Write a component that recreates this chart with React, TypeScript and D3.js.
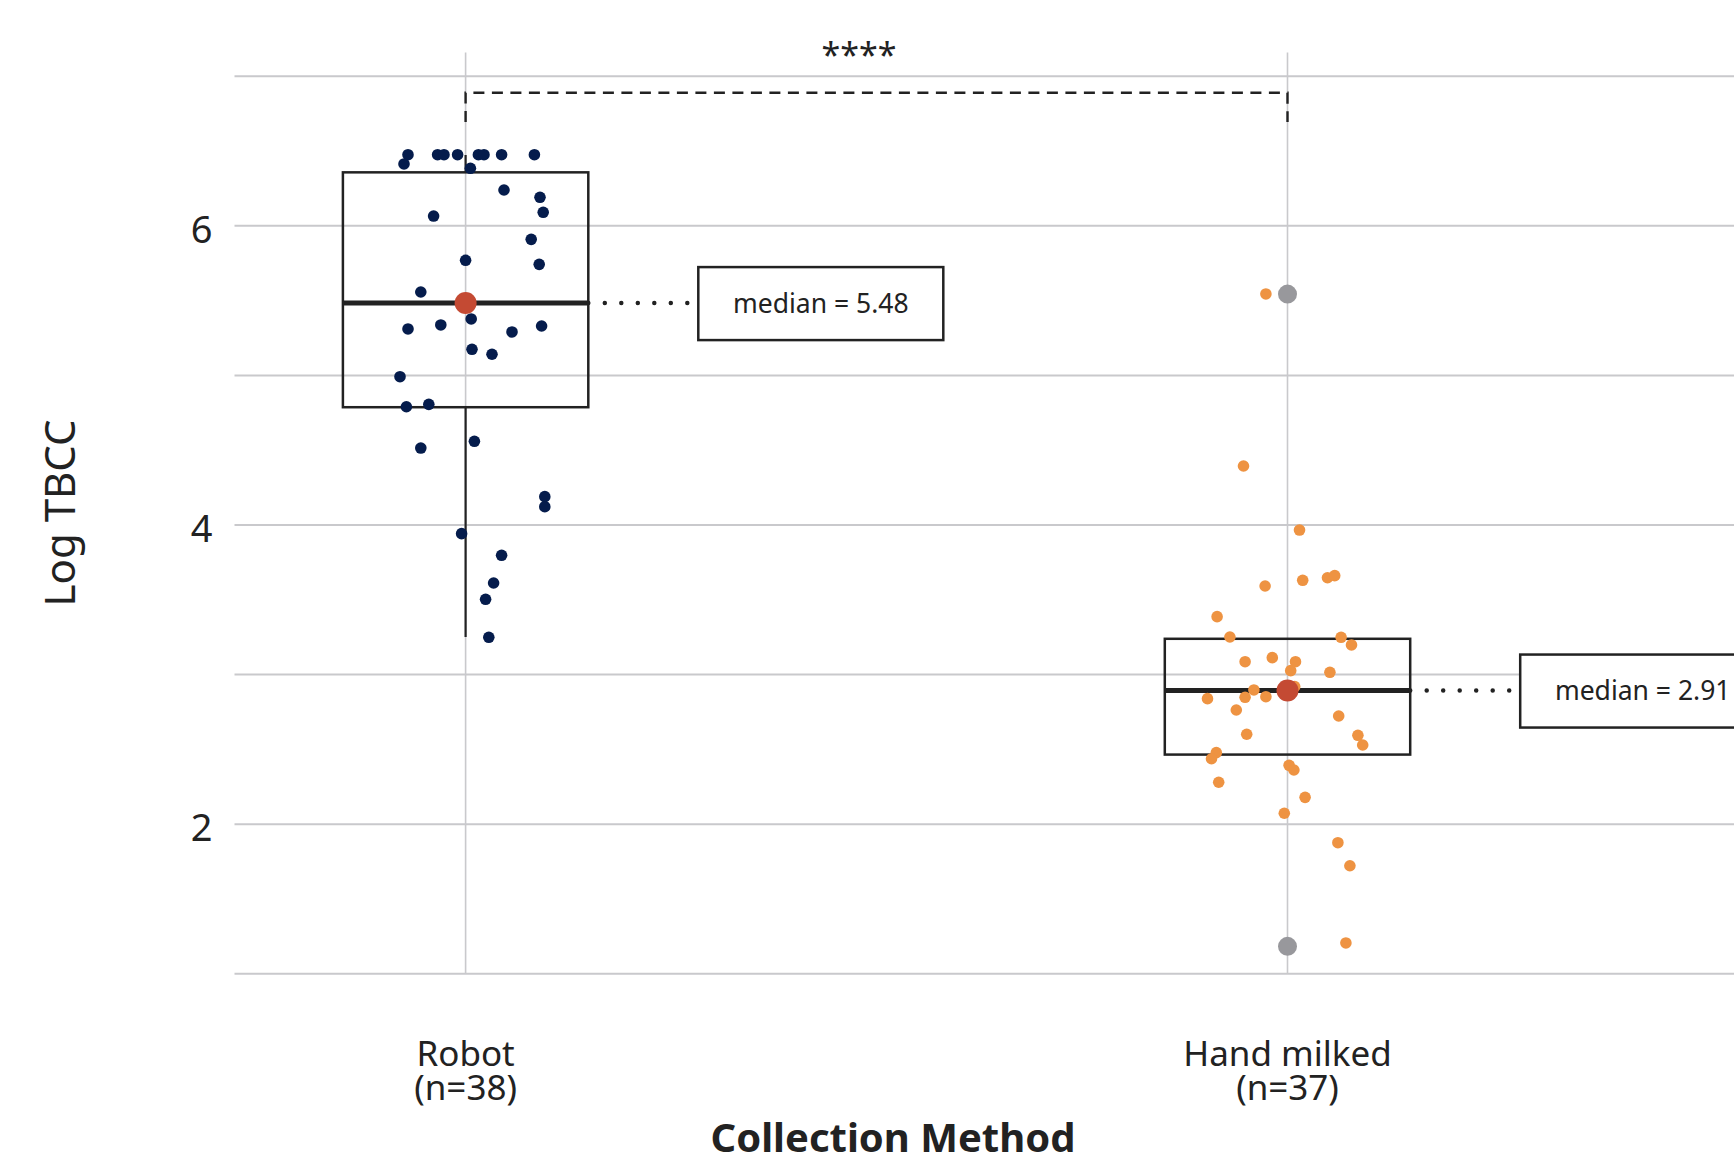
import * as d3 from 'd3';
import React, { useRef, useEffect } from 'react';

const WIDTH = 1734;
const HEIGHT = 1153;
const FONT = '"Noto Sans", "Open Sans", sans-serif';

const categories = ['Robot', 'Hand milked'];
const counts = [38, 37];
const medians = [5.48, 2.89];
const medianLabels = ['5.48', '2.91'];
const q1 = [4.784, 2.462];
const q3 = [6.354, 3.236];
const whiskerLow = [3.248, null];
const whiskerHigh = [6.47, null];
const outliers = [[], [5.54, 1.18]];

const robotValues = [
  6.472, 6.41, 6.472, 6.472, 6.472, 6.472, 6.472, 6.472, 6.472, 6.381,
  6.236, 6.187, 6.087, 6.062, 5.906, 5.766, 5.739, 5.554, 5.374, 5.307,
  5.334, 5.287, 5.327, 5.171, 5.138, 4.988, 4.787, 4.803, 4.511, 4.556,
  4.186, 4.119, 3.939, 3.794, 3.609, 3.5, 3.246, 5.48,
];
const robotJitter = [
  -0.72, -0.77, -0.35, -0.27, -0.1, 0.16, 0.23, 0.45, 0.86, 0.06,
  0.48, 0.93, 0.97, -0.4, 0.82, 0.0, 0.92, -0.56, 0.07, -0.72,
  -0.31, 0.58, 0.95, 0.08, 0.33, -0.82, -0.74, -0.46, -0.56, 0.11,
  0.99, 0.99, -0.05, 0.45, 0.35, 0.25, 0.29, -0.04,
];
const handValues = [
  3.963, 3.589, 3.627, 3.644, 3.658, 3.384, 3.248, 3.246, 3.195, 3.083,
  3.11, 3.083, 3.023, 3.012, 2.894, 2.916, 2.836, 2.845, 2.849, 2.76,
  2.72, 2.598, 2.591, 2.526, 2.475, 2.434, 2.39, 2.359, 2.277, 2.176,
  2.07, 5.541, 4.391, 1.873, 1.719, 1.203, 2.89,
];
const handJitter = [
  0.15, -0.28, 0.19, 0.5, 0.59, -0.88, -0.72, 0.67, 0.8, -0.53,
  -0.19, 0.1, 0.04, 0.53, -0.42, 0.09, -1.0, -0.53, -0.27, -0.64,
  0.64, -0.51, 0.88, 0.94, -0.89, -0.95, 0.02, 0.08, -0.86, 0.22,
  -0.04, -0.27, -0.55, 0.63, 0.78, 0.73, 0.0,
];
const pointColors = ['#051c4c', '#ee9342'];

const yTicks = [2, 4, 6];
const yGrid = [1, 2, 3, 4, 5, 6, 7];

const App = () => {
  const ref = useRef(null);

  useEffect(() => {
    document.body.style.margin = '0';
    const svg = d3.select(ref.current);
    svg.selectAll('*').remove();

    const plotLeft = 234.5;
    const y = d3.scaleLinear().domain([1, 7]).range([973.3, 75.7]);
    const x = d3.scalePoint().domain(categories).range([465.6, 1287.5]);
    const jitter = d3.scaleLinear().domain([-1, 1]).range([-80, 80]);
    const boxHalf = 122.7;

    // horizontal grid
    svg.append('g')
      .attr('transform', `translate(${plotLeft},0)`)
      .call(d3.axisLeft(y).tickValues(yGrid).tickSize(-(WIDTH - plotLeft)).tickFormat(() => ''))
      .call((g) => g.select('.domain').remove())
      .call((g) => g.selectAll('line').attr('stroke', '#c9c9cc').attr('stroke-width', 2));

    // y tick labels
    svg.append('g')
      .attr('transform', `translate(${plotLeft},0)`)
      .call(d3.axisLeft(y).tickValues(yTicks).tickSize(0).tickPadding(22).tickFormat(d3.format('d')))
      .call((g) => g.select('.domain').remove())
      .call((g) => g.selectAll('text')
        .attr('font-family', FONT)
        .attr('font-size', 38)
        .attr('fill', '#222')
        .attr('dy', '0.45em'));

    // vertical grid
    svg.append('g').selectAll('line')
      .data(categories)
      .join('line')
      .attr('x1', (d) => x(d))
      .attr('x2', (d) => x(d))
      .attr('y1', y(7.155))
      .attr('y2', y(1))
      .attr('stroke', '#c9c9cc')
      .attr('stroke-width', 1.6);

    // boxes
    categories.forEach((c, i) => {
      const cx = x(c);
      const g = svg.append('g');
      if (whiskerHigh[i] != null) {
        g.append('line')
          .attr('x1', cx).attr('x2', cx)
          .attr('y1', y(q3[i])).attr('y2', y(whiskerHigh[i]))
          .attr('stroke', '#222').attr('stroke-width', 2.2);
      }
      if (whiskerLow[i] != null) {
        g.append('line')
          .attr('x1', cx).attr('x2', cx)
          .attr('y1', y(q1[i])).attr('y2', y(whiskerLow[i]))
          .attr('stroke', '#222').attr('stroke-width', 2.2);
      }
      g.append('rect')
        .attr('x', cx - boxHalf)
        .attr('y', y(q3[i]))
        .attr('width', boxHalf * 2)
        .attr('height', y(q1[i]) - y(q3[i]))
        .attr('fill', 'none')
        .attr('stroke', '#222')
        .attr('stroke-width', 2.5);
      g.append('line')
        .attr('x1', cx - boxHalf).attr('x2', cx + boxHalf)
        .attr('y1', y(medians[i])).attr('y2', y(medians[i]))
        .attr('stroke', '#222').attr('stroke-width', 5);
    });

    // jittered points
    const series = [
      { values: robotValues, jit: robotJitter },
      { values: handValues, jit: handJitter },
    ];
    series.forEach((s, i) => {
      const cx = x(categories[i]);
      svg.append('g').selectAll('circle')
        .data(s.values)
        .join('circle')
        .attr('cx', (d, j) => cx + jitter(s.jit[j]))
        .attr('cy', (d) => y(d))
        .attr('r', 5.8)
        .attr('fill', pointColors[i]);
    });

    // outliers
    categories.forEach((c, i) => {
      svg.append('g').selectAll('circle')
        .data(outliers[i])
        .join('circle')
        .attr('cx', x(c))
        .attr('cy', (d) => y(d))
        .attr('r', 9.5)
        .attr('fill', '#98989c');
    });

    // median markers + annotations
    categories.forEach((c, i) => {
      const cx = x(c);
      const my = y(medians[i]);
      const boxX = cx + boxHalf + 110;
      svg.append('circle')
        .attr('cx', cx).attr('cy', my).attr('r', 11)
        .attr('fill', '#c44a33');
      svg.append('line')
        .attr('x1', cx + boxHalf).attr('x2', boxX)
        .attr('y1', my).attr('y2', my)
        .attr('stroke', '#222')
        .attr('stroke-width', 4.5)
        .attr('stroke-linecap', 'round')
        .attr('stroke-dasharray', '0 16.5');
      svg.append('rect')
        .attr('x', boxX)
        .attr('y', my - 36)
        .attr('width', 245)
        .attr('height', 73)
        .attr('fill', 'white')
        .attr('stroke', '#222')
        .attr('stroke-width', 2.5);
      svg.append('text')
        .attr('x', boxX + 122.5)
        .attr('y', my + 9.5)
        .attr('text-anchor', 'middle')
        .attr('font-family', FONT)
        .attr('font-size', 26.5)
        .attr('fill', '#222')
        .text(`median = ${medianLabels[i]}`);
    });

    // significance bracket
    const bx1 = x(categories[0]);
    const bx2 = x(categories[1]);
    const by = 92.8;
    svg.append('path')
      .attr('d', `M${bx1},122 L${bx1},${by} L${bx2},${by} L${bx2},122`)
      .attr('fill', 'none')
      .attr('stroke', '#222')
      .attr('stroke-width', 2.4)
      .attr('stroke-dasharray', '11 7.5');
    svg.append('text')
      .attr('x', 859)
      .attr('y', 67)
      .attr('text-anchor', 'middle')
      .attr('font-family', FONT)
      .attr('font-size', 34)
      .attr('fill', '#222')
      .text('****');

    // x labels
    categories.forEach((c, i) => {
      const t = svg.append('text')
        .attr('text-anchor', 'middle')
        .attr('font-family', FONT)
        .attr('font-size', 35)
        .attr('fill', '#222');
      t.append('tspan').attr('x', x(c)).attr('y', 1066).text(c);
      t.append('tspan').attr('x', x(c)).attr('y', 1100).text(`(n=${counts[i]})`);
    });

    // axis titles
    svg.append('text')
      .attr('transform', 'translate(75,513) rotate(-90)')
      .attr('text-anchor', 'middle')
      .attr('font-family', FONT)
      .attr('font-size', 42)
      .attr('fill', '#222')
      .text('Log TBCC');
    svg.append('text')
      .attr('x', 893)
      .attr('y', 1152)
      .attr('text-anchor', 'middle')
      .attr('font-family', FONT)
      .attr('font-size', 40)
      .attr('font-weight', 'bold')
      .attr('fill', '#222')
      .text('Collection Method');
  }, []);

  return (
    <svg ref={ref} width={WIDTH} height={HEIGHT} style={{ display: 'block', background: 'white' }} />
  );
};

export default App;
